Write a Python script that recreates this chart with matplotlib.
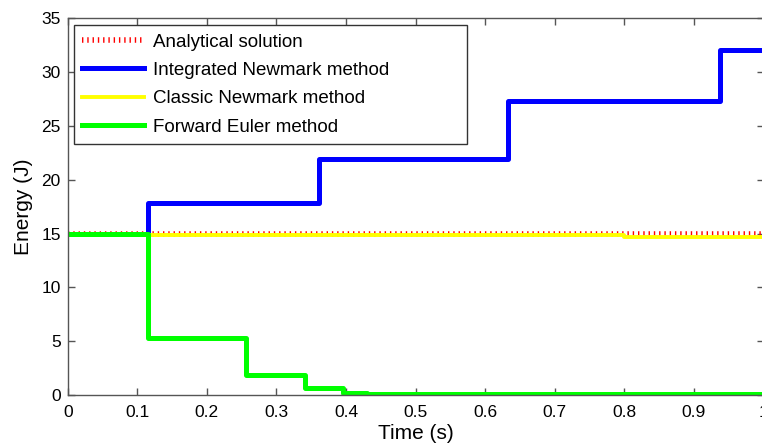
import numpy as np
import matplotlib
matplotlib.use('Agg')
import matplotlib.pyplot as plt
from matplotlib.ticker import FuncFormatter

plt.rcParams['font.family'] = ['Liberation Sans', 'DejaVu Sans']

# energy histories, stored as (switch time, level) pairs of a piecewise constant signal
analytical_t = [0.0, 1.0]
analytical_e = [15.0, 15.0]

newmark_int_t = [0.0, 0.115, 0.361, 0.633, 0.937, 1.0]
newmark_int_e = [15.0, 17.8, 21.9, 27.3, 32.05, 32.05]

newmark_classic_t = [0.0, 0.348, 0.80, 1.0]
newmark_classic_e = [14.9, 14.85, 14.7, 14.7]

euler_t = [0.0, 0.116, 0.256, 0.341, 0.396, 0.43, 1.0]
euler_e = [15.0, 5.27, 1.83, 0.62, 0.15, 0.08, 0.08]

labels = ['Analytical solution', 'Integrated Newmark method',
          'Classic Newmark method', 'Forward Euler method']

fig = plt.figure(figsize=(7.62, 4.48), dpi=100)
ax = fig.add_axes([0.0889, 0.1183, 0.9131, 0.8408])

ax.plot(analytical_t, analytical_e, color='red', lw=4, dashes=(0.25, 0.7),
        dash_capstyle='butt', label=labels[0])
ax.plot(newmark_int_t, newmark_int_e, color='#0000ff', lw=3.6,
        drawstyle='steps-post', label=labels[1])
ax.plot(newmark_classic_t, newmark_classic_e, color='#ffff00', lw=2.8,
        drawstyle='steps-post', label=labels[2])
ax.plot(euler_t, euler_e, color='#00ff00', lw=3.6,
        drawstyle='steps-post', label=labels[3])

ax.set_xlim(0, 1)
ax.set_ylim(0, 35)
ax.set_xticks(np.arange(0, 1.01, 0.1))
ax.set_yticks(np.arange(0, 36, 5))
ax.xaxis.set_major_formatter(FuncFormatter(lambda v, p: '%g' % round(v, 2)))
ax.tick_params(direction='in', top=True, right=True, length=5, width=1,
               color='#555555', labelsize=12.5)
ax.tick_params(axis='x', pad=7)
ax.tick_params(axis='y', pad=5)
for sp in ax.spines.values():
    sp.set_color('#555555')
    sp.set_linewidth(1)

ax.set_xlabel('Time (s)', fontsize=15, labelpad=3)
ax.set_ylabel('Energy (J)', fontsize=15, labelpad=6)

leg = ax.legend(loc='upper left', bbox_to_anchor=(0.0083, 0.972, 0.565, 0.01),
                mode='expand', fontsize=13.5, frameon=True, fancybox=False,
                edgecolor='#333333', framealpha=1, borderaxespad=0,
                handlelength=3.3, handletextpad=0.5, labelspacing=0.6,
                borderpad=0.45)
leg.get_frame().set_linewidth(1)

fig.savefig('out.png', dpi=100)
